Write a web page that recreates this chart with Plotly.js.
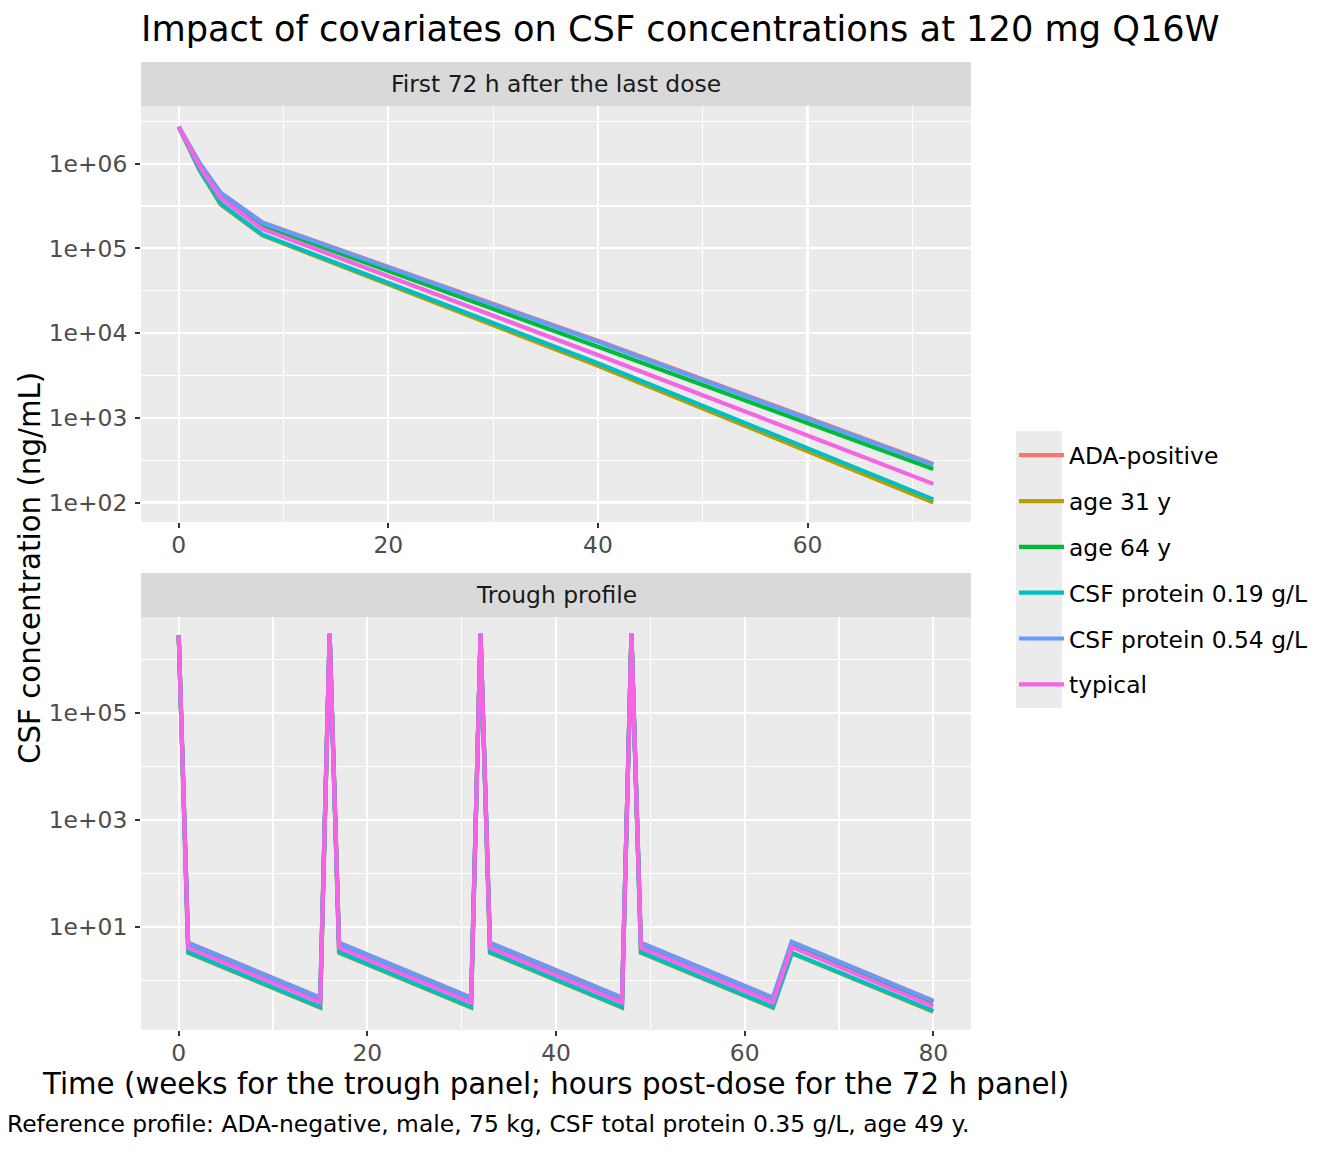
<!DOCTYPE html>
<html>
<head>
<meta charset="utf-8">
<script src="https://cdn.plot.ly/plotly-3.0.1.min.js"></script>
<style>
  body { margin: 0; background: white; }
  #chart { width: 1344px; height: 1152px; }
</style>
</head>
<body>
<div id="chart"></div>
<script>
// data
var series_names = ["ADA-positive", "age 31 y", "age 64 y", "CSF protein 0.19 g/L", "CSF protein 0.54 g/L", "typical"];
var series_colors = ["#F8766D", "#B79F00", "#00BA38", "#00BFC4", "#619CFF", "#F564E3"];

// first 72 h panel (hours post-dose)
var hours = [0, 2, 4, 8, 40, 72];
var ada_pos_72h = [2720000, 1010000, 455000, 202000, 8100, 285];
var age31_72h = [2720000, 830000, 330000, 142000, 4100, 100];
var age64_72h = [2720000, 900000, 420000, 187000, 6900, 249];
var csf019_72h = [2720000, 840000, 340000, 145000, 4400, 109];
var csf054_72h = [2720000, 1000000, 450000, 199000, 7900, 278];
var typical_72h = [2720000, 920000, 393000, 169000, 5500, 166];

// trough panel (weeks)
var weeks = [0, 1, 15, 16, 17, 31, 32, 33, 47, 48, 49, 63, 65, 80];
var ada_pos_trough = [2800000, 5.1, 0.48, 3000000, 5.1, 0.48, 3000000, 5.1, 0.48, 3000000, 5.1, 0.48, 5.3, 0.42];
var age31_trough = [2800000, 3.3, 0.31, 3000000, 3.3, 0.31, 3000000, 3.3, 0.31, 3000000, 3.3, 0.31, 3.2, 0.26];
var age64_trough = [2800000, 4.8, 0.45, 3000000, 4.8, 0.45, 3000000, 4.8, 0.45, 3000000, 4.8, 0.45, 4.9, 0.39];
var csf019_trough = [2800000, 3.4, 0.32, 3000000, 3.4, 0.32, 3000000, 3.4, 0.32, 3000000, 3.4, 0.32, 3.3, 0.27];
var csf054_trough = [2800000, 5.0, 0.47, 3000000, 5.0, 0.47, 3000000, 5.0, 0.47, 3000000, 5.0, 0.47, 5.2, 0.41];
var typical_trough = [2800000, 4.1, 0.39, 3000000, 4.1, 0.39, 3000000, 4.1, 0.39, 3000000, 4.1, 0.39, 4.2, 0.33];

var top_values = [ada_pos_72h, age31_72h, age64_72h, csf019_72h, csf054_72h, typical_72h];
var bottom_values = [ada_pos_trough, age31_trough, age64_trough, csf019_trough, csf054_trough, typical_trough];

var font_family = "DejaVu Sans, sans-serif";
var line_w = 4.2;
var small_size = 23.4;

var traces = [];
for (var i = 0; i < series_names.length; i++) {
    traces.push({
        x: hours,
        y: top_values[i],
        name: series_names[i],
        legendgroup: "g" + i,
        type: "scatter",
        mode: "lines",
        line: { color: series_colors[i], width: line_w },
        xaxis: "x",
        yaxis: "y"
    });
}
for (var i = 0; i < series_names.length; i++) {
    traces.push({
        x: weeks,
        y: bottom_values[i],
        name: series_names[i],
        legendgroup: "g" + i,
        showlegend: false,
        type: "scatter",
        mode: "lines",
        line: { color: series_colors[i], width: line_w },
        xaxis: "x2",
        yaxis: "y2"
    });
}

var tick_font = { family: font_family, size: small_size, color: "#4D4D4D" };

function xaxis_base(range, majors, minors) {
    return {
        range: range,
        tickmode: "array",
        tickvals: majors,
        ticktext: majors.map(String),
        ticks: "outside",
        ticklen: 5,
        tickwidth: 2,
        tickcolor: "#333333",
        tickfont: tick_font,
        ticklabelstandoff: -3,
        showgrid: true,
        gridcolor: "white",
        gridwidth: 2.2,
        zeroline: false,
        showline: false,
        minor: { tickmode: "array", tickvals: minors, showgrid: true, gridcolor: "white", gridwidth: 1.1, ticks: "" }
    };
}

function yaxis_base(range, majors, labels, minors, domain) {
    return {
        type: "log",
        range: range,
        domain: domain,
        tickmode: "array",
        tickvals: majors,
        ticktext: labels,
        ticks: "outside",
        ticklen: 5,
        tickwidth: 2,
        tickcolor: "#333333",
        tickfont: tick_font,
        ticklabelstandoff: 3,
        showgrid: true,
        gridcolor: "white",
        gridwidth: 2.2,
        zeroline: false,
        showline: false,
        minor: { tickmode: "array", tickvals: minors, showgrid: true, gridcolor: "white", gridwidth: 1.1, ticks: "" }
    };
}

var top_domain = [0.5248, 0.9545];
var bottom_domain = [0, 0.4267];

var xaxis1 = xaxis_base([-3.6, 75.6], [0, 20, 40, 60], [10, 30, 50, 70]);
xaxis1.anchor = "y";
var xaxis2 = xaxis_base([-4, 84], [0, 20, 40, 60, 80], [10, 30, 50, 70]);
xaxis2.anchor = "y2";
xaxis2.title = {
    text: "Time (weeks for the trough panel; hours post-dose for the 72 h panel)",
    font: { family: font_family, size: 29.3, color: "black" },
    standoff: 6
};

var yaxis1 = yaxis_base([1.77, 6.68], [100, 1000, 10000, 100000, 1000000],
    ["1e+02", "1e+03", "1e+04", "1e+05", "1e+06"],
    [316.2, 3162, 31623, 316228, 3162278], top_domain);
yaxis1.anchor = "x";
var yaxis2 = yaxis_base([-0.926, 6.794], [10, 1000, 100000],
    ["1e+01", "1e+03", "1e+05"],
    [1, 100, 10000, 1000000], bottom_domain);
yaxis2.anchor = "x2";

var layout = {
    width: 1344,
    height: 1152,
    margin: { l: 141, r: 373, t: 62, b: 122 },
    paper_bgcolor: "white",
    plot_bgcolor: "#EBEBEB",
    font: { family: font_family, color: "black" },
    title: {
        text: "Impact of covariates on CSF concentrations at 120 mg Q16W",
        font: { family: font_family, size: 35.2, color: "black" },
        x: 141 / 1344,
        xanchor: "left",
        y: 1 - 29 / 1152,
        yanchor: "middle"
    },
    xaxis: xaxis1,
    yaxis: yaxis1,
    xaxis2: xaxis2,
    yaxis2: yaxis2,
    showlegend: true,
    legend: {
        x: (1014 - 141) / 830,
        xanchor: "left",
        y: 1 - (570 - 62) / 968,
        yanchor: "middle",
        bgcolor: "rgba(0,0,0,0)",
        font: { family: font_family, size: small_size, color: "black" },
        itemwidth: 45,
        tracegroupgap: 12.4,
        traceorder: "grouped"
    },
    shapes: [
        // facet strips
        { type: "rect", xref: "paper", yref: "paper", x0: 0, x1: 1, y0: 0.9545, y1: 1,
          fillcolor: "#D9D9D9", line: { width: 0 } },
        { type: "rect", xref: "paper", yref: "paper", x0: 0, x1: 1, y0: 0.4267, y1: 0.4721,
          fillcolor: "#D9D9D9", line: { width: 0 } },
        // legend key background
        { type: "rect", xref: "paper", yref: "paper", x0: 1.0542, x1: 1.1096, y0: 0.3326, y1: 0.6188,
          fillcolor: "#EBEBEB", line: { width: 0 }, layer: "below" }
    ],
    annotations: [
        { text: "First 72 h after the last dose", xref: "paper", yref: "paper", x: 0.5, y: 0.97725,
          xanchor: "center", yanchor: "middle", showarrow: false,
          font: { family: font_family, size: small_size, color: "#1A1A1A" } },
        { text: "Trough profile", xref: "paper", yref: "paper", x: 0.5, y: 0.4494,
          xanchor: "center", yanchor: "middle", showarrow: false,
          font: { family: font_family, size: small_size, color: "#1A1A1A" } },
        { text: "CSF concentration (ng/mL)", xref: "paper", yref: "paper", x: (30 - 141) / 830, y: 1 - (568 - 62) / 968,
          xanchor: "center", yanchor: "middle", textangle: -90, showarrow: false,
          font: { family: font_family, size: 29.3, color: "black" } },
        { text: "Reference profile: ADA-negative, male, 75 kg, CSF total protein 0.35 g/L, age 49 y.",
          xref: "paper", yref: "paper", x: 1, y: -(1124 - 1030) / 968,
          xanchor: "right", yanchor: "middle", showarrow: false,
          font: { family: font_family, size: small_size, color: "black" } }
    ]
};

Plotly.newPlot("chart", traces, layout, { displayModeBar: false, staticPlot: true });
</script>
</body>
</html>
